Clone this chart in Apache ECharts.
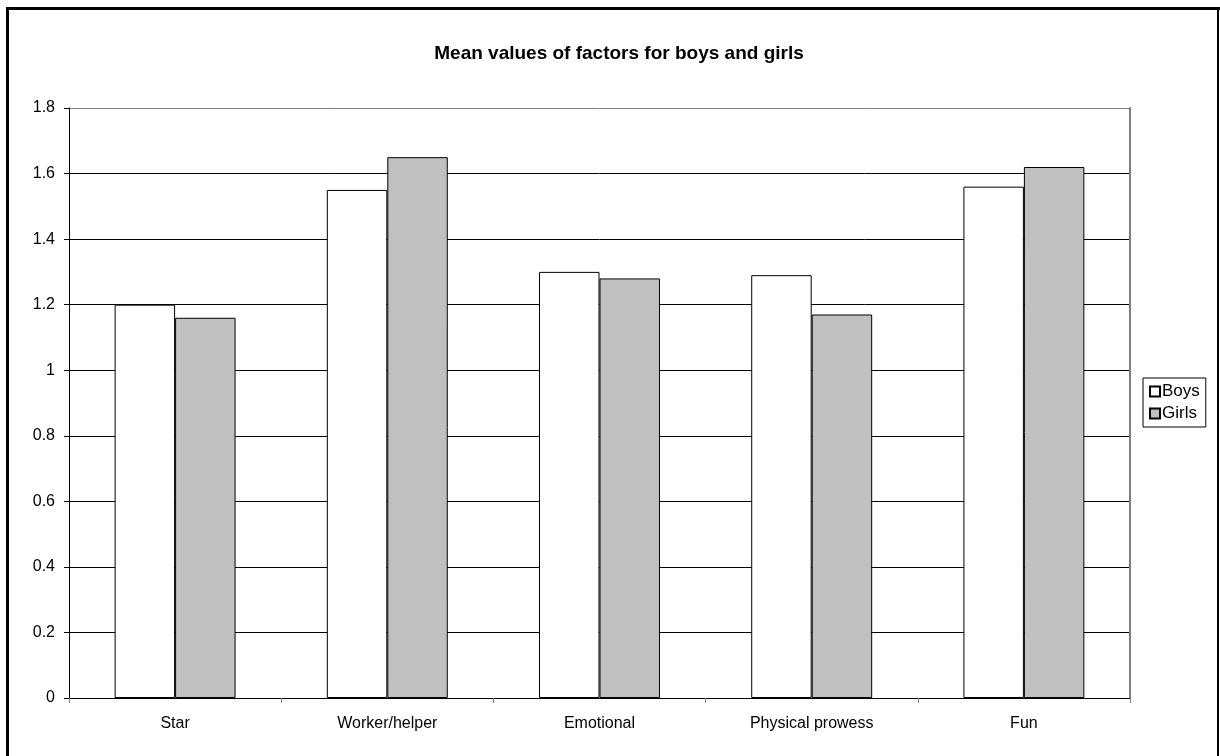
<!DOCTYPE html>
<html>
<head>
<meta charset="utf-8">
<script src="https://cdn.jsdelivr.net/npm/echarts@6/dist/echarts.min.js"></script>
<style>
  html, body { margin: 0; padding: 0; background: #fff; }
  #chart { width: 1220px; height: 756px; }
</style>
</head>
<body>
<div id="chart"></div>
<script>
// Mean factor scores by group
const categories = ['Star', 'Worker/helper', 'Emotional', 'Physical prowess', 'Fun'];
const boys = [1.20, 1.55, 1.30, 1.29, 1.56];
const girls = [1.16, 1.65, 1.28, 1.17, 1.62];
const seriesNames = ['Boys', 'Girls'];
const titleText = 'Mean values of factors for boys and girls';

const font = 'Arial, "Liberation Sans", sans-serif';
const chart = echarts.init(document.getElementById('chart'), null, { renderer: 'canvas' });

// gridline colours: inner lines black, top edge of the plot grey
const gridColors = ['#000', '#000', '#000', '#000', '#000', '#000', '#000', '#000', '#000', '#808080'];

chart.setOption({
  animation: false,
  backgroundColor: '#fff',
  title: {
    text: titleText,
    left: 614,
    textAlign: 'center',
    top: 39,
    textStyle: { fontFamily: font, fontSize: 19, fontWeight: 'bold', color: '#000' }
  },
  legend: {
    data: seriesNames,
    orient: 'vertical',
    left: 1143,
    top: 378,
    width: 63,
    padding: [5, 6, 5, 6],
    itemGap: 5,
    itemWidth: 10,
    itemHeight: 10,
    borderColor: '#000',
    borderWidth: 1,
    icon: 'rect',
    textStyle: { fontFamily: font, fontSize: 17, color: '#000', padding: [0, 0, 0, -3] }
  },
  grid: { left: 69, right: 90, top: 108, bottom: 58, containLabel: false },
  xAxis: {
    type: 'category',
    data: categories,
    axisLine: { lineStyle: { color: '#000', width: 1 } },
    axisTick: { show: true, length: 5, lineStyle: { color: '#808080' } },
    axisLabel: { fontFamily: font, fontSize: 16, color: '#000', margin: 18 }
  },
  yAxis: [
    {
      type: 'value',
      min: 0,
      max: 1.8,
      interval: 0.2,
      axisLine: { show: true, lineStyle: { color: '#000', width: 1 } },
      axisTick: { show: true, length: 5, lineStyle: { color: '#000' } },
      axisLabel: { fontFamily: font, fontSize: 16, color: '#000', margin: 14 },
      splitLine: { show: true, lineStyle: { color: gridColors, width: 1 } }
    },
    {
      type: 'value',
      position: 'right',
      min: 0,
      max: 1.8,
      interval: 0.2,
      axisLine: { show: true, lineStyle: { color: '#808080', width: 2 } },
      axisTick: { show: false },
      axisLabel: { show: false },
      splitLine: { show: false }
    }
  ],
  series: [
    {
      name: seriesNames[0],
      type: 'bar',
      data: boys,
      barGap: '0%',
      barCategoryGap: '43%',
      itemStyle: { color: '#fff', borderColor: '#000', borderWidth: 1 }
    },
    {
      name: seriesNames[1],
      type: 'bar',
      data: girls,
      barGap: '0%',
      barCategoryGap: '43%',
      itemStyle: { color: '#c0c0c0', borderColor: '#000', borderWidth: 1 }
    }
  ],
  graphic: [
    // page frame around the chart
    { type: 'rect', shape: { x: 6, y: 7, width: 3, height: 760 }, style: { fill: '#000' }, z: 100 },
    { type: 'rect', shape: { x: 6, y: 7, width: 1214, height: 3 }, style: { fill: '#000' }, z: 100 },
    { type: 'rect', shape: { x: 1217, y: 7, width: 2, height: 760 }, style: { fill: '#000' }, z: 100 }
  ]
});
</script>
</body>
</html>
